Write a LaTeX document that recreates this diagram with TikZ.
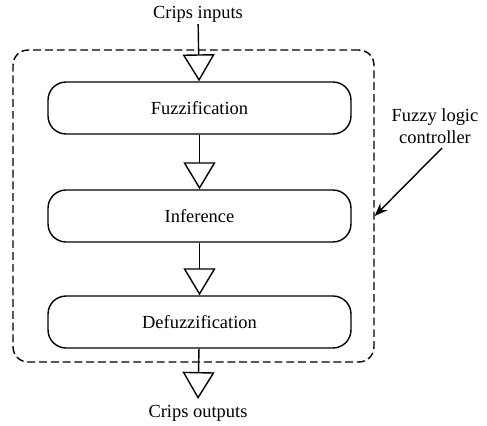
\documentclass[tikz,border=0pt]{standalone}
\usepackage{fontspec}
\setmainfont{Liberation Serif}
\usetikzlibrary{shapes}
\usetikzlibrary{positioning}
\usetikzlibrary{arrows.meta}
\tikzset{
    stage/.style = {draw=black, line width=0.8pt, rounded corners=0.36cm, minimum width=6.06cm, minimum height=1.04cm, align=center, text=black},
    frame/.style = {draw=black, line width=0.8pt, dashed, dash pattern=on 4.5pt off 2.2pt, rounded corners=0.3cm, minimum width=7.22cm, minimum height=6.24cm},
    plain/.style = {align=center, text=black, inner sep=1pt},
    edgef/.style = {line width=0.8pt, black, -{Triangle[open,length=0.54cm,width=0.64cm]}}, % flow
    edgep/.style = {line width=0.8pt, black, -{Stealth[length=0.26cm,width=0.2cm]}}, % pointer
    every picture/.style={font issue=\fontsize{10.5}{12.5}},
    font issue/.style={execute at begin picture={#1\selectfont}}
}
\begin{document}
\begin{tikzpicture}[x=0.02cm,y=-0.02cm]
%
\node[frame] at (193.5,206) (flc) {};
\node[stage] at (199.5,108) (fuz) {Fuzzification};
\node[stage] at (199.5,216) (inf) {Inference};
\node[stage] at (199.5,322) (def) {Defuzzification};
\node[plain] at (198,14) (in) {Crips inputs};
\node[plain] at (198,413) (out) {Crips outputs};
\node[plain] at (435,126) (lbl) {Fuzzy logic\\controller};
\coordinate (outtip) at (198,399);
\coordinate (lbltail) at (442,148);
%
\draw[edgef] (in) -- (fuz);
\draw[edgef] (fuz) -- (inf);
\draw[edgef] (inf) -- (def);
\draw[edgef] (def) -- (outtip);
\draw[edgep] (lbltail) -- (flc.east |- inf);

\path[use as bounding box] (0,0) rectangle (487,426);

\end{tikzpicture}
\end{document}
